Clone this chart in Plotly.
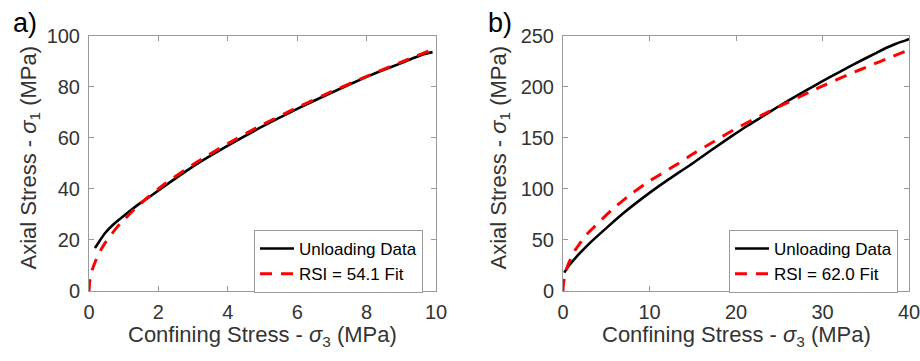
import plotly.graph_objects as go

# ---------------- data ----------------
# panel a) Unloading data
a_data_x = [0.17, 0.3, 0.46, 0.7, 1.04, 1.4, 1.8, 2.4, 3, 4, 5, 6, 7, 8, 8.5, 9, 9.3, 9.6, 9.8, 9.9]
a_data_y = [16.8, 19.5, 22.6, 26.0, 29.8, 33.6, 37.4, 43.2, 48.8, 56.9, 64.4, 71.3, 77.7, 83.8, 86.6,
            89.2, 90.9, 92.5, 93.2, 93.5]
# panel a) RSI = 54.1 fit
a_fit_x = [0, 0.02, 0.05, 0.09, 0.24, 0.33, 0.48, 0.81, 0.95, 1.3, 1.7, 2.2, 3, 4, 5, 6, 7, 8, 9, 10]
a_fit_y = [0, 3.8, 6.0, 8.2, 13.4, 15.8, 19.1, 25.0, 27.0, 31.9, 36.7, 42.1, 49.5, 57.7, 65.1, 71.8,
           78.1, 84.0, 89.6, 95.0]

# panel b) Unloading data
b_data_x = [0.15, 0.6, 1.4, 2, 3.3, 5.2, 7.1, 10, 12, 13.5, 15, 17, 19.5, 21, 23.2, 25, 27, 29,
            30.9, 33, 34.7, 36, 37.4, 38.5, 39.7, 40]
b_data_y = [18.0, 24.0, 32.0, 37.5, 48.5, 63.0, 77.0, 96.0, 108.0, 116.5, 125.0, 137.0, 151.5,
            160.0, 171.5, 181.0, 191.0, 200.5, 209.5, 219.0, 226.5, 232.0, 238.0, 242.0, 245.5, 246.5]
# panel b) RSI = 62.0 fit
b_fit_x = [0, 0.02, 0.07, 0.2, 0.4, 0.7, 1, 1.4, 2, 2.7, 3.7, 5.6, 7.5, 9.7, 12.9, 15, 17.5, 19.7,
           23.9, 28.6, 30.5, 33.2, 35.5, 37.8, 40]
b_fit_y = [0, 4.4, 8.3, 14.1, 21.0, 28.0, 33.5, 40.0, 47.0, 55.0, 63.5, 79.0, 92.5, 106.0, 122.5,
           134.0, 146.5, 157.5, 176.0, 195.0, 202.5, 212.5, 220.5, 228.5, 236.0]

a_xticks = [0, 2, 4, 6, 8, 10]
a_yticks = [0, 20, 40, 60, 80, 100]
b_xticks = [0, 10, 20, 30, 40]
b_yticks = [0, 50, 100, 150, 200, 250]

series_names = ["Unloading Data"]
fit_names = ["RSI = 54.1 Fit", "RSI = 62.0 Fit"]
panel_labels = ["a)", "b)"]
x_title = "Confining Stress - <i>σ</i><sub>3</sub> (MPa)"
y_title = "Axial Stress - <i>σ</i><sub>1</sub> (MPa)"

# ---------------- figure ----------------
W, H = 920, 361
FONT = "Liberation Sans, Arial, sans-serif"
AXC = "#9a9a9a"
TXT = "#333333"


def px_x(p):
    return p / W


def px_y(p):
    return (H - p) / H


fig = go.Figure()

data_line = dict(color="black", width=2.6, shape="spline", smoothing=0.6)
fit_line = dict(color="#ff0000", width=3, dash="12px,9px", shape="spline", smoothing=0.6)

fig.add_trace(go.Scatter(x=a_data_x, y=a_data_y, mode="lines", name=series_names[0],
                         line=data_line, xaxis="x", yaxis="y", legend="legend"))
fig.add_trace(go.Scatter(x=a_fit_x, y=a_fit_y, mode="lines", name=fit_names[0],
                         line=fit_line, xaxis="x", yaxis="y", legend="legend"))
fig.add_trace(go.Scatter(x=b_data_x, y=b_data_y, mode="lines", name=series_names[0],
                         line=data_line, xaxis="x2", yaxis="y2", legend="legend2"))
fig.add_trace(go.Scatter(x=b_fit_x, y=b_fit_y, mode="lines", name=fit_names[1],
                         line=fit_line, xaxis="x2", yaxis="y2", legend="legend2"))

ydom = [px_y(291), px_y(35.5)]


def axis_common(ticks, rng, dom, anchor, standoff):
    return dict(
        domain=dom, range=rng, anchor=anchor, tickvals=ticks, ticktext=[str(t) for t in ticks],
        showgrid=False, zeroline=False, showline=True, linecolor=AXC, linewidth=1,
        mirror="ticks", ticks="inside", ticklen=5, tickcolor=AXC, tickwidth=1,
        tickfont=dict(family=FONT, size=20, color=TXT), automargin=False,
        ticklabelstandoff=standoff, ticklabeloverflow="allow", fixedrange=True,
    )


layout = dict(
    width=W, height=H, margin=dict(l=0, r=0, t=0, b=0),
    paper_bgcolor="white", plot_bgcolor="white", showlegend=True,
    xaxis=axis_common(a_xticks, [0, 10], [px_x(89), px_x(436)], "y", 3),
    yaxis=axis_common(a_yticks, [0, 100], ydom, "x", 4),
    xaxis2=axis_common(b_xticks, [0, 40], [px_x(563), px_x(909)], "y2", 3),
    yaxis2=axis_common(b_yticks, [0, 250], ydom, "x2", 4),
)

leg_common = dict(
    xref="paper", yref="paper", xanchor="left", yanchor="top",
    bgcolor="white", bordercolor=AXC, borderwidth=1,
    font=dict(family=FONT, size=17, color="black"), itemwidth=34,
    tracegroupgap=0,
)
layout["legend"] = dict(x=px_x(254), y=px_y(230), **leg_common)
layout["legend2"] = dict(x=px_x(729), y=px_y(230), **leg_common)

annotations = []
for cx in (262.5, 736):
    annotations.append(dict(text=x_title, x=px_x(cx), y=px_y(336), xref="paper", yref="paper",
                            xanchor="center", yanchor="middle", showarrow=False,
                            font=dict(family=FONT, size=22, color=TXT)))
for cx in (29, 499):
    annotations.append(dict(text=y_title, x=px_x(cx), y=px_y(157.5), xref="paper", yref="paper",
                            xanchor="center", yanchor="middle", showarrow=False, textangle=-90,
                            font=dict(family=FONT, size=22, color=TXT)))
for lx, lab in zip((11, 486), panel_labels):
    annotations.append(dict(text=lab, x=px_x(lx), y=px_y(23), xref="paper", yref="paper",
                            xanchor="left", yanchor="middle", showarrow=False,
                            font=dict(family=FONT, size=27, color="black")))
layout["annotations"] = annotations

fig.update_layout(**layout)
fig.write_html("out.html", config={"displayModeBar": False})
